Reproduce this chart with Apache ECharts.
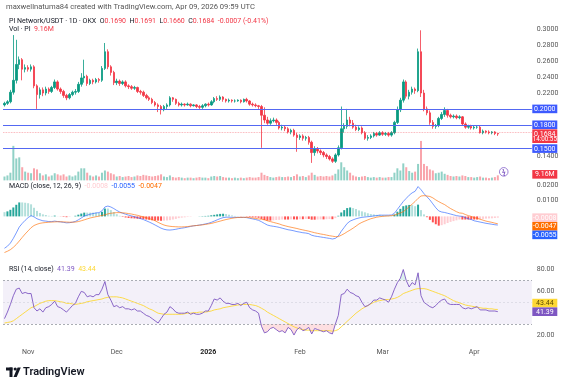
<!DOCTYPE html>
<html><head><meta charset="utf-8">
<script src="https://cdn.jsdelivr.net/npm/echarts@6/dist/echarts.min.js"></script>
<style>html,body{margin:0;padding:0;background:#fff}#c{width:571px;height:388px}</style>
</head><body><div id="c"></div>
<script>
// ---- categories: daily dates from 2025-10-24 (179 slots, last candle 2026-04-09) ----
const firstDay = '2025-10-24';
const slotCount = 179;
const dates = [];
(function () { const d = new Date(firstDay + 'T00:00:00Z'); for (let i = 0; i < slotCount; i++) { dates.push(d.toISOString().slice(0, 10)); d.setUTCDate(d.getUTCDate() + 1); } })();
const eventDate = '2026-04-11';

// ---- price (PI/USDT daily) ----
const open = [.205,.207,.209,.221,.236,.256,.262,.250,.252,.250,
.253,.229,.218,.224,.220,.225,.222,.227,.234,.225,
.222,.217,.214,.218,.221,.222,.231,.239,.241,.232,
.236,.234,.237,.236,.251,.272,.253,.246,.233,.235,
.232,.234,.229,.228,.226,.227,.222,.221,.217,.214,
.212,.208,.205,.203,.199,.203,.205,.214,.212,.207,
.205,.206,.205,.206,.204,.205,.203,.202,.204,.206,
.205,.209,.213,.212,.215,.212,.210,.211,.210,.210,
.211,.209,.212,.210,.206,.205,.204,.203,.192,.186,
.182,.185,.186,.183,.176,.177,.175,.171,.173,.167,
.164,.166,.163,.164,.158,.145,.150,.147,.145,.142,
.140,.137,.134,.142,.151,.175,.178,.186,.182,.177,
.174,.176,.170,.163,.164,.166,.169,.167,.170,.168,
.169,.167,.170,.183,.199,.211,.234,.216,.221,.225,
.223,.272,.220,.200,.195,.183,.178,.179,.188,.193,
.198,.192,.190,.191,.189,.190,.181,.177,.178,.176,
.177,.177,.170,.172,.171,.170,.171,.1690];
const close = [.207,.209,.221,.236,.256,.262,.250,.252,.250,.253,
.229,.218,.224,.220,.225,.222,.227,.234,.225,.222,
.217,.214,.218,.221,.222,.231,.239,.241,.232,.236,
.234,.237,.236,.251,.272,.253,.246,.233,.235,.232,
.234,.229,.228,.226,.227,.222,.221,.217,.214,.212,
.208,.205,.203,.199,.203,.205,.214,.212,.207,.205,
.206,.205,.206,.204,.205,.203,.202,.204,.206,.205,
.209,.213,.212,.215,.212,.210,.211,.210,.210,.211,
.209,.212,.210,.206,.205,.204,.203,.192,.186,.182,
.185,.186,.183,.176,.177,.175,.171,.173,.167,.164,
.166,.163,.164,.158,.145,.150,.147,.145,.142,.140,
.137,.134,.142,.151,.175,.178,.186,.182,.177,.174,
.176,.170,.163,.164,.166,.169,.167,.170,.168,.169,
.167,.170,.183,.199,.211,.234,.216,.221,.225,.223,
.272,.220,.200,.195,.183,.178,.179,.188,.193,.198,
.192,.190,.191,.189,.190,.181,.177,.178,.176,.177,
.177,.170,.172,.171,.170,.171,.169,.1684];
const low = [.203,.205,.207,.218,.232,.250,.236,.246,.247,.247,
.226,.200,.213,.216,.217,.219,.220,.225,.223,.219,
.214,.211,.212,.216,.218,.220,.228,.233,.229,.230,
.231,.232,.233,.234,.249,.250,.242,.230,.230,.229,
.230,.227,.225,.224,.224,.220,.218,.215,.212,.210,
.206,.203,.196,.193,.197,.200,.203,.209,.205,.203,
.203,.203,.204,.202,.203,.201,.200,.200,.202,.203,
.204,.207,.210,.210,.209,.208,.208,.208,.208,.209,
.207,.208,.208,.204,.203,.202,.200,.151,.182,.180,
.180,.183,.180,.174,.173,.172,.169,.168,.165,.146,
.161,.160,.160,.155,.132,.141,.144,.142,.139,.137,
.135,.132,.132,.140,.149,.170,.175,.178,.175,.172,
.172,.168,.161,.160,.162,.164,.165,.166,.166,.166,
.165,.165,.168,.181,.196,.208,.213,.212,.218,.219,
.221,.215,.197,.192,.180,.175,.175,.177,.186,.190,
.189,.188,.188,.187,.187,.179,.175,.175,.174,.174,
.175,.169,.168,.169,.168,.168,.167,.1660];
const high = [.209,.211,.224,.293,.287,.266,.264,.256,.255,.256,
.255,.231,.227,.227,.228,.227,.229,.237,.236,.227,
.224,.219,.220,.223,.225,.234,.245,.262,.243,.238,
.238,.239,.239,.254,.283,.275,.255,.248,.238,.237,
.236,.236,.231,.230,.229,.228,.224,.223,.219,.216,
.214,.210,.207,.205,.205,.207,.216,.215,.213,.209,
.208,.207,.208,.207,.206,.206,.205,.206,.207,.208,
.211,.215,.216,.217,.216,.213,.213,.212,.212,.212,
.212,.213,.214,.211,.208,.207,.205,.205,.202,.190,
.188,.189,.188,.185,.180,.179,.177,.175,.175,.170,
.168,.168,.166,.166,.160,.153,.152,.149,.147,.144,
.142,.139,.144,.154,.203,.182,.200,.190,.186,.180,
.178,.178,.172,.167,.168,.171,.171,.172,.172,.171,
.171,.172,.185,.203,.214,.237,.236,.224,.228,.227,
.276,.299,.224,.203,.198,.186,.181,.190,.196,.202,
.200,.194,.193,.193,.192,.191,.183,.180,.180,.179,
.179,.179,.174,.173,.173,.172,.172,.1691];
// volume, millions of PI
const volume = [7,9,14,63,40,42,24,16,14,13,
22,20,13,9,11,7,9,13,11,9,
11,7,9,7,9,16,22,22,14,9,
7,9,7,14,18,16,13,11,7,8,
6,7,8,6,7,9,8,10,9,8,
7,8,9,11,7,6,9,6,5,6,
5,4,5,5,4,5,6,5,5,4,
7,8,7,8,6,5,5,4,5,4,
5,4,5,6,5,5,6,14,10,8,
6,5,6,7,6,6,7,6,8,11,
7,8,6,9,14,10,7,8,7,8,
7,9,12,20,33,24,18,14,9,7,
6,7,8,6,5,6,5,6,5,5,
6,6,14,22,18,31,24,17,14,16,
30,72,30,26,20,18,13,14,16,12,
10,8,7,8,7,9,8,6,6,5,
6,7,5,5,4,5,6,9.16];
// horizontal levels drawn on the chart
const levels = [0.2000, 0.1800, 0.1500];
const priceTicks = [0.14, 0.22, 0.24, 0.26, 0.28, 0.30];

// ---- MACD (12, 26, 9), units of 1e-4 ----
const macd = [-203,-190,-170,-140,-105,-68,-45,-25,-8,5,
-3,-15,-22,-28,-30,-33,-33,-30,-33,-35,
-38,-41,-40,-37,-32,-22,-10,2,8,14,
18,22,24,35,60,66,60,50,38,28,
20,14,8,3,-2,-8,-14,-20,-28,-36,
-45,-55,-65,-75,-82,-86,-87,-85,-82,-78,
-75,-72,-68,-64,-60,-58,-55,-52,-48,-44,
-38,-30,-22,-14,-8,-5,-5,-6,-6,-6,
-7,-6,-8,-12,-16,-20,-25,-34,-45,-55,
-60,-63,-66,-70,-75,-80,-85,-88,-92,-97,
-100,-104,-106,-110,-120,-125,-128,-131,-134,-137,
-140,-144,-140,-125,-95,-70,-45,-30,-22,-15,
-10,-6,-4,-2,0,3,5,8,8,8,
8,9,20,45,70,95,115,135,150,160,
190,170,145,125,105,80,55,35,28,25,
20,15,10,5,2,0,-8,-15,-20,-28,
-32,-36,-40,-44,-47,-50,-53,-55];
const signal = [-230,-222,-212,-197,-179,-157,-134,-112,-92,-72,
-58,-50,-44,-41,-39,-37,-36,-35,-34,-34,
-35,-36,-37,-37,-36,-33,-28,-22,-16,-10,
-6,-2,2,6,10,16,20,22,24,24,
23,21,18,15,11,7,2,-3,-8,-14,
-20,-28,-38,-47,-55,-60,-63,-65,-66,-67,
-67,-66,-65,-62,-60,-58,-56,-54,-51,-48,
-45,-40,-35,-30,-25,-20,-16,-12,-9,-7,
-6,-6,-6,-8,-10,-13,-16,-18,-22,-28,
-33,-38,-43,-48,-55,-60,-65,-69,-73,-77,
-82,-86,-90,-94,-99,-104,-108,-112,-115,-119,
-123,-126,-129,-129,-120,-110,-98,-87,-75,-62,
-48,-38,-30,-22,-15,-10,-5,-2,0,2,
3,5,8,15,22,30,45,62,78,95,
115,130,132,130,127,118,105,94,84,75,
62,50,40,30,22,20,12,5,0,-8,
-12,-18,-24,-30,-34,-38,-43,-47];

// ---- RSI (14) and its MA ----
const rsi = [35,41,48,56,62,63,58,59,58,58,
45,42,44,41,45,46,48,51,46,45,
43,41,44,47,49,55,60,59,55,56,
55,57,57,62,69,57,52,46,47,45,
46,44,44,43,44,42,42,40,38,37,
35,33,31,35,39,41,46,44,41,40,
40,40,41,39,40,39,39,40,42,42,
47,53,52,54,51,49,49,48,48,49,
47,49,50,45,43,42,40,28,22,23,
26,27,25,23,24,22,27,25,20,25,
27,24,25,27,21,26,25,24,23,24,
22,21,30,38,57,58,62,59,58,56,
55,50,46,47,49,52,52,54,53,52,
50,55,62,68,72,80,70,64,68,66,
77,56,50,48,46,45,47,50,52,53,
49,48,48,48,48,45,44,45,44,45,
46,43,43,43,42,42,42,41.39];
const rsiMA = [31,31.5,32,33,35,37,39,41,43,45,
46,47.5,49,50,51,51.5,51.5,51.5,51,50.5,
50,49,49,48.5,48,48.5,49,49.5,50.5,51,
51.5,52,52.5,53,54,54.5,55,55,55,54.5,
54,53,52,51,50,49,48,47,45.5,44,
43,41.5,40,39.5,39,39,39,39,39,39,
39,39.5,40,40,40.5,40.5,41,41,41,41.5,
42,43,43.5,44,45,45.5,46,46.5,47,47.5,
48,48,48,48,47.5,47,46,44.5,43,41,
39.5,38,36.5,35,33.5,32,30.5,29,27.5,26.5,
25.5,25,24.5,24.5,24,24,24,24,24,24,
24,23.5,24,25,27.5,30,32.5,35,37.5,40,
42,44,45.5,47,48.5,50,51,51.5,52,52.5,
52.5,53,53.5,54.5,56,58,59,60,61,62,
62.5,62.5,62.5,62,61,60,59,58,57,56,
54.5,53,51.5,50.5,49.5,48.5,47.5,47,46.5,46,
45.5,45,44.5,44.5,44,44,43.5,43.44];

const UP = '#089981', DOWN = '#f23645';
const FONT = 'Roboto, "Noto Sans", sans-serif';
const GRID_L = 3, GRID_R = 39.2;

const candleData = open.map((o, i) => [o, close[i], low[i], high[i]]);
const volData = volume.map((v, i) => ({ value: v, itemStyle: { color: close[i] >= open[i] ? 'rgba(8,153,129,0.45)' : 'rgba(242,54,69,0.45)' } }));
const hist = macd.map((m, i) => (m - signal[i]) / 1e4);
const histData = hist.map((h, i) => {
  const prev = i > 0 ? hist[i - 1] : h;
  let c;
  if (h >= 0) c = h > prev ? '#26a69a' : '#b2dfdb'; else c = h > prev ? '#ffcdd2' : '#ff5252';
  return { value: h, itemStyle: { color: c } };
});
const macdData = macd.map(v => v / 1e4);
const signalData = signal.map(v => v / 1e4);

const monthNames = ['Jan','Feb','Mar','Apr','May','Jun','Jul','Aug','Sep','Oct','Nov','Dec'];
function xAxisFor(grid, show) {
  return {
    type: 'category', gridIndex: grid, data: dates, boundaryGap: true,
    axisLine: { show: false }, axisTick: { show: false }, splitLine: { show: false },
    axisLabel: show ? {
      show: true, interval: (i, v) => v.slice(8) === '01', margin: 3,
      fontFamily: FONT, fontSize: 7, color: '#555',
      formatter: v => { const m = +v.slice(5, 7); return m === 1 ? '{y|' + v.slice(0, 4) + '}' : monthNames[m - 1]; },
      rich: { y: { fontFamily: FONT, fontSize: 7, fontWeight: 'bold', color: '#222' } }
    } : { show: false }
  };
}
const axLabel = { fontFamily: FONT, fontSize: 7, color: '#555', margin: 5 };

const chart = echarts.init(document.getElementById('c'), null, { renderer: 'canvas' });
const option = {
  animation: false,
  backgroundColor: '#ffffff',
  grid: [
    { left: GRID_L, right: GRID_R, top: 21.56, height: 158.8 },
    { left: GRID_L, right: GRID_R, top: 169.3, height: 94.2 },
    { left: GRID_L, right: GRID_R, top: 258.6, height: 87.35 }
  ],
  xAxis: [xAxisFor(0, false), xAxisFor(1, false), xAxisFor(2, true)],
  yAxis: [
    { type: 'value', gridIndex: 0, position: 'right', min: 0.11, max: 0.31, interval: 0.01, splitLine: { show: false }, axisLine: { show: false }, axisTick: { show: false },
      axisLabel: Object.assign({}, axLabel, { formatter: v => priceTicks.some(t => Math.abs(t - v) < 1e-6) ? v.toFixed(4) : '' }) },
    { type: 'value', gridIndex: 0, min: 0, max: 290, show: false },
    { type: 'value', gridIndex: 1, position: 'right', min: -0.03, max: 0.03, interval: 0.01, splitLine: { show: false }, axisLine: { show: false }, axisTick: { show: false },
      axisLabel: Object.assign({}, axLabel, { formatter: v => (Math.abs(v - 0.02) < 1e-6 || Math.abs(v - 0.01) < 1e-6) ? v.toFixed(4) : '' }) },
    { type: 'value', gridIndex: 2, position: 'right', min: 10, max: 90, interval: 10, splitLine: { show: false }, axisLine: { show: false }, axisTick: { show: false },
      axisLabel: Object.assign({}, axLabel, { formatter: v => (v === 80 || v === 60 || v === 20) ? v.toFixed(2) : '' }) }
  ],
  visualMap: [{
    show: false, type: 'piecewise', seriesIndex: 7, dimension: 1,
    pieces: [
      { lt: 30, color: 'rgba(242,54,69,0.16)' },
      { gte: 30, lte: 70, color: 'rgba(255,255,255,0)' },
      { gt: 70, color: 'rgba(8,153,129,0.14)' }
    ]
  }],
  series: [
    { type: 'candlestick', xAxisIndex: 0, yAxisIndex: 0, data: candleData, barWidth: 2,
      itemStyle: { color: UP, color0: DOWN, borderColor: UP, borderColor0: DOWN, borderWidth: 0.8 },
      markLine: { silent: true, symbol: 'none', label: { show: false },
        data: levels.map(v => ({ yAxis: v, lineStyle: { color: '#5468f2', width: 1.2, type: 'solid' } }))
          .concat([{ yAxis: close[close.length - 1], lineStyle: { color: DOWN, width: 0.8, type: 'dotted', opacity: 0.5 } }]) } },
    { type: 'bar', xAxisIndex: 0, yAxisIndex: 1, data: volData, barWidth: 2 },
    { type: 'bar', xAxisIndex: 1, yAxisIndex: 2, data: histData, barWidth: 2 },
    { type: 'line', xAxisIndex: 1, yAxisIndex: 2, data: macdData, showSymbol: false, lineStyle: { color: '#2962ff', width: 0.8, opacity: 0.8 } },
    { type: 'line', xAxisIndex: 1, yAxisIndex: 2, data: signalData, showSymbol: false, lineStyle: { color: '#ff6d00', width: 0.8, opacity: 0.8 } },
    { type: 'line', xAxisIndex: 2, yAxisIndex: 3, data: rsi, showSymbol: false, z: 4, lineStyle: { color: '#7e57c2', width: 0.9 },
      markArea: { silent: true, itemStyle: { color: 'rgba(126,87,194,0.09)' }, data: [[{ yAxis: 30 }, { yAxis: 70 }]] },
      markLine: { silent: true, symbol: 'none', label: { show: false },
        data: [{ yAxis: 70, lineStyle: { color: '#9598a1', type: [2, 2], width: 0.8 } },
               { yAxis: 50, lineStyle: { color: '#b2b5be', type: [2, 2], width: 0.6, opacity: 0.5 } },
               { yAxis: 30, lineStyle: { color: '#9598a1', type: [2, 2], width: 0.8 } }] } },
    { type: 'line', xAxisIndex: 2, yAxisIndex: 3, data: rsiMA, showSymbol: false, z: 3, lineStyle: { color: '#fdd835', width: 0.9 } },
    { type: 'line', xAxisIndex: 2, yAxisIndex: 3, data: rsi, showSymbol: false, z: 2, lineStyle: { width: 0 }, areaStyle: { origin: 30, opacity: 1 } }
  ]
};
chart.setOption(option);

// ---- value boxes on the right scale, placed through the axes' own conversion ----
const boxX = 571 - GRID_R + 0.5, BOXW = 25, H = 8.6;
function box(text, y, bg, fg) {
  return { type: 'group', z: 100, children: [
    { type: 'rect', shape: { x: boxX, y: y - H / 2, width: BOXW, height: H }, style: { fill: bg } },
    { type: 'text', style: { text: text, x: boxX + BOXW / 2, y: y + 0.3, font: '7px ' + FONT, fill: fg || '#fff', align: 'center', verticalAlign: 'middle' } }
  ] };
}
const py = v => chart.convertToPixel({ yAxisIndex: 0 }, v);
const vy = v => chart.convertToPixel({ yAxisIndex: 1 }, v);
const my = v => chart.convertToPixel({ yAxisIndex: 2 }, v);
const ry = v => chart.convertToPixel({ yAxisIndex: 3 }, v);
const lastI = close.length - 1;
const yHist = my(hist[lastI]);
const ySig = Math.max(my(signalData[lastI]), yHist + H);
const yMacd = Math.max(my(macdData[lastI]), ySig + H);
const yRsi = ry(rsi[lastI]);
const yMa = Math.min(ry(rsiMA[lastI]), yRsi - H);
const fmt4 = v => (v < 0 ? '-' : '') + Math.abs(v).toFixed(4);

const graphics = [];
levels.forEach(v => graphics.push(box(v.toFixed(4), py(v), '#3d5afe')));
const yLast = py(close[lastI]);
graphics.push({ type: 'group', z: 100, children: [
  { type: 'rect', shape: { x: boxX, y: yLast - 4.6, width: BOXW, height: 13.6 }, style: { fill: DOWN } },
  { type: 'text', style: { text: close[lastI].toFixed(4), x: boxX + BOXW / 2, y: yLast + 0.2, font: '7px ' + FONT, fill: '#fff', align: 'center', verticalAlign: 'middle' } },
  { type: 'text', style: { text: '14:00:55', x: boxX + BOXW / 2, y: yLast + 5.8, font: '6.3px ' + FONT, fill: '#fff', align: 'center', verticalAlign: 'middle' } }
] });
graphics.push(box((volume[lastI]).toFixed(2) + 'M', vy(volume[lastI]) - 1, DOWN));
graphics.push(box(fmt4(hist[lastI]), yHist, '#ffcdd2', '#fff'));
graphics.push(box(fmt4(signalData[lastI]), ySig, '#ff6d00'));
graphics.push(box(fmt4(macdData[lastI]), yMacd, '#2962ff'));
graphics.push(box(rsiMA[lastI].toFixed(2), yMa, '#fdd835', '#5d4a00'));
graphics.push(box(rsi[lastI].toFixed(2), yRsi, '#7e57c2'));

// upcoming-event marker at the bottom of the price pane
const evX = chart.convertToPixel({ xAxisIndex: 0 }, eventDate);
const evY = py(0.11) - 8.5;
graphics.push({ type: 'group', z: 100, children: [
  { type: 'circle', shape: { cx: evX, cy: evY, r: 4.3 }, style: { fill: '#fff', stroke: '#9c7fd6', lineWidth: 1 } },
  { type: 'text', style: { text: 'ϟ', x: evX, y: evY + 0.3, font: 'bold 6.5px ' + FONT, fill: '#7e57c2', align: 'center', verticalAlign: 'middle' } }
] });

// header and legends
const dark = '#131722', red = '#f23645';
graphics.push({ type: 'text', z: 100, style: { x: 6, y: 7, verticalAlign: 'middle', text: 'maxwellnatuma84 created with TradingView.com, Apr 09, 2026 09:59 UTC', font: '7.6px ' + FONT, fill: '#555' } });
graphics.push({ type: 'text', z: 100, style: { x: 9, y: 21, verticalAlign: 'middle', font: '7px ' + FONT, fill: dark,
  text: '{d|PI Network/USDT · 1D · OKX}  {d|O}{r|0.1690}  {d|H}{r|0.1691}  {d|L}{r|0.1660}  {d|C}{r|0.1684}  {r|-0.0007 (-0.41%)}',
  rich: { d: { fill: dark, font: '7px ' + FONT }, r: { fill: red, font: '7px ' + FONT } } } });
graphics.push({ type: 'text', z: 100, style: { x: 9, y: 29.5, verticalAlign: 'middle', font: '7px ' + FONT,
  text: '{d|Vol · PI}  {r|9.16M}', rich: { d: { fill: dark, font: '7px ' + FONT }, r: { fill: red, font: '7px ' + FONT } } } });
graphics.push({ type: 'text', z: 100, style: { x: 9, y: 186, verticalAlign: 'middle', font: '7px ' + FONT,
  text: '{d|MACD (close, 12, 26, 9)}  {h|-0.0008}  {b|-0.0055}  {o|-0.0047}',
  rich: { d: { fill: dark, font: '7px ' + FONT }, h: { fill: '#ffcdd2', font: '7px ' + FONT }, b: { fill: '#2962ff', font: '7px ' + FONT }, o: { fill: '#ff6d00', font: '7px ' + FONT } } } });
graphics.push({ type: 'text', z: 100, style: { x: 9, y: 269.5, verticalAlign: 'middle', font: '7px ' + FONT,
  text: '{d|RSI (14, close)}  {p|41.39}  {y|43.44}',
  rich: { d: { fill: dark, font: '7px ' + FONT }, p: { fill: '#7e57c2', font: '7px ' + FONT }, y: { fill: '#fdd835', font: '7px ' + FONT } } } });
// TradingView logo (mark + wordmark)
graphics.push({ type: 'group', z: 100, children: [
  { type: 'rect', shape: { x: 6, y: 367.5, width: 6.5, height: 3 }, style: { fill: dark } },
  { type: 'rect', shape: { x: 9.5, y: 367.5, width: 3, height: 9.5 }, style: { fill: dark } },
  { type: 'circle', shape: { cx: 15.2, cy: 369, r: 1.6 }, style: { fill: dark } },
  { type: 'polygon', shape: { points: [[13.5, 377], [17.6, 367.5], [20.8, 367.5], [16.7, 377]] }, style: { fill: dark } }
] });
graphics.push({ type: 'text', z: 100, style: { x: 23, y: 372.5, verticalAlign: 'middle', text: 'TradingView', font: '600 11px ' + FONT, fill: dark } });
chart.setOption({ graphic: graphics });
</script></body></html>
